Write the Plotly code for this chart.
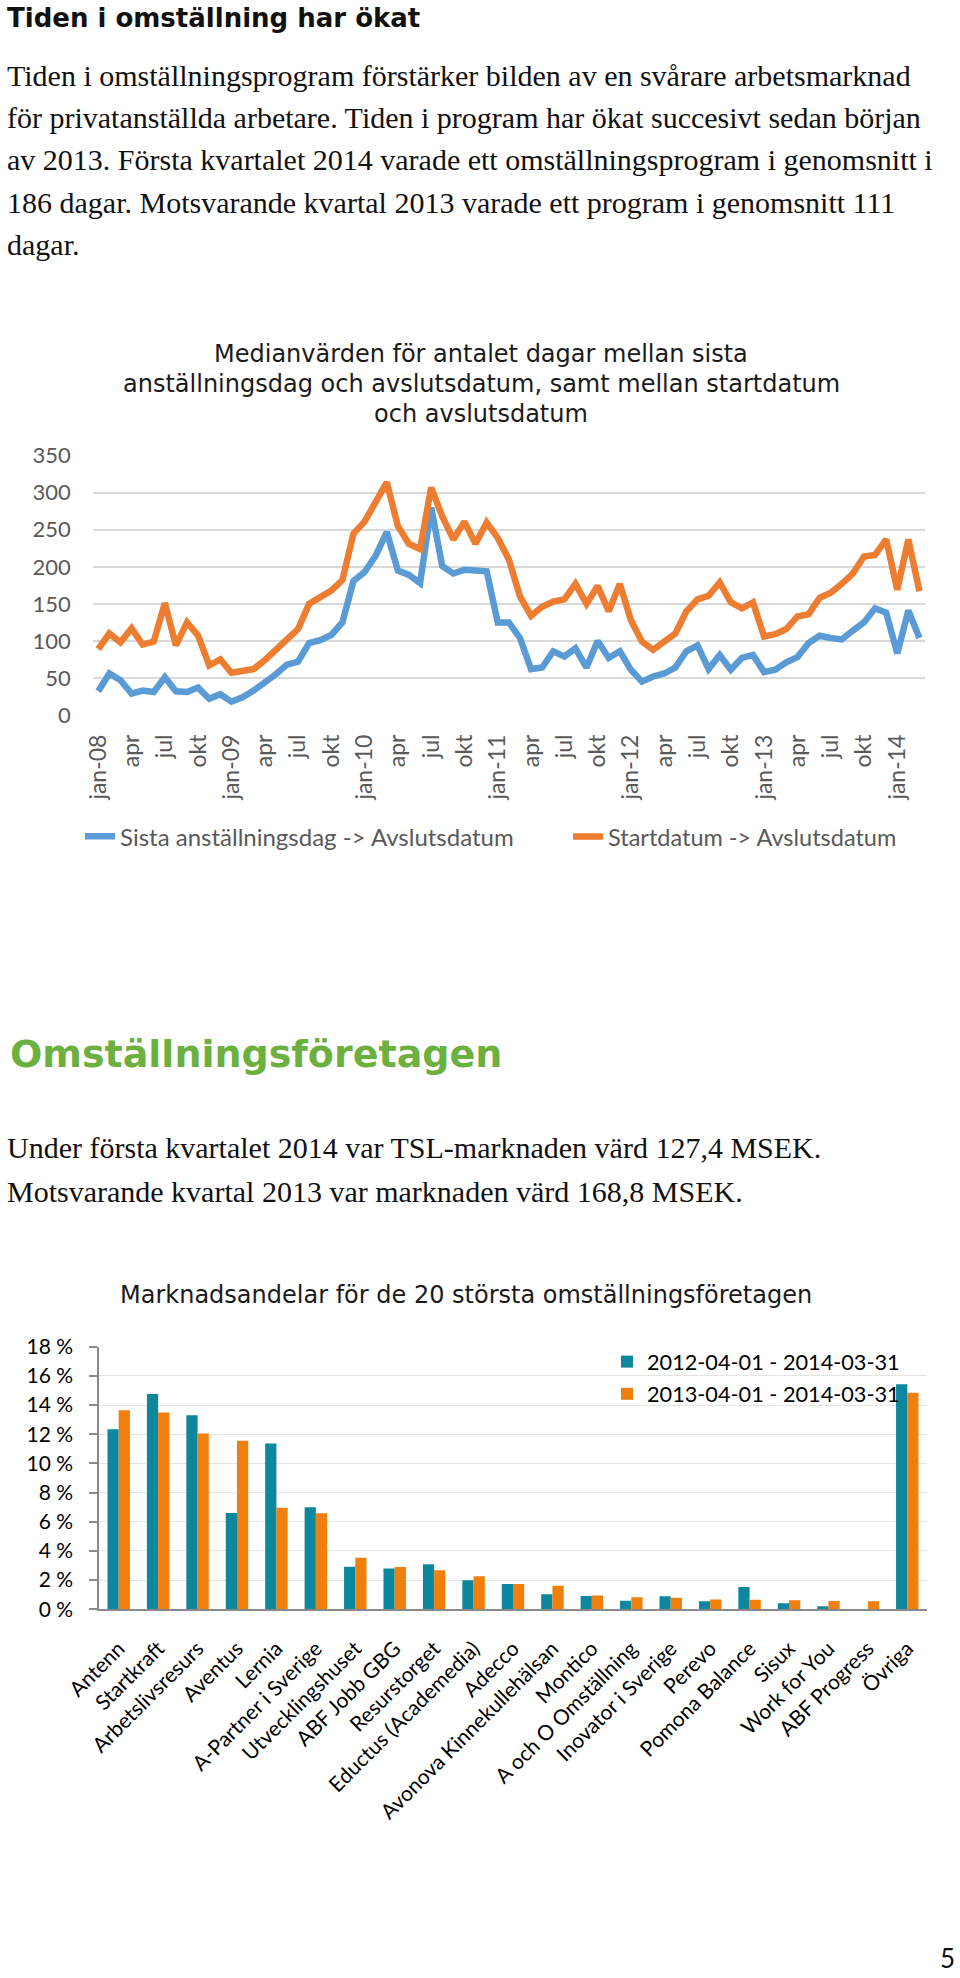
import plotly.graph_objects as go

W, H = 960, 1978

# ---------------- data: line chart ----------------
mon = ["jan", "feb", "mar", "apr", "maj", "jun", "jul", "aug", "sep", "okt", "nov", "dec"]
months = [f"{m}-{y:02d}" for y in range(8, 15) for m in mon][:75]
tick_vals = months[::3]
tick_text = [m if m.startswith("jan") else m[:3] for m in tick_vals]

sista = [32, 56, 47, 29, 33, 31, 51, 32, 31, 37, 22, 28, 18, 24, 33, 43, 55, 68, 72,
         97, 101, 108, 125, 181, 193, 215, 247, 195, 189, 178, 280, 201, 191, 196, 195,
         194, 125, 125, 104, 62, 64, 86, 79, 90, 64, 100, 77, 86, 61, 45, 52, 56, 64,
         86, 94, 62, 81, 61, 77, 81, 58, 61, 71, 78, 97, 107, 104, 102, 114, 125, 144,
         138, 83, 141, 104]
start = [89, 110, 98, 117, 95, 99, 151, 94, 125, 107, 67, 75, 57, 59, 62, 74, 89, 103,
         116, 150, 158, 168, 182, 245, 261, 288, 314, 255, 231, 224, 307, 268, 237, 261,
         231, 260, 239, 210, 160, 134, 146, 153, 156, 177, 150, 174, 140, 177, 128, 99,
         88, 99, 110, 140, 156, 161, 179, 152, 144, 152, 106, 109, 116, 133, 136, 158,
         165, 177, 191, 214, 216, 237, 169, 237, 167]
line_names = ["Sista anställningsdag -> Avslutsdatum", "Startdatum -> Avslutsdatum"]

# ---------------- data: bar chart ----------------
companies = ["Antenn", "Startkraft", "Arbetslivsresurs", "Aventus", "Lernia",
             "A-Partner i Sverige", "Utvecklingshuset", "ABF Jobb GBG", "Resurstorget",
             "Eductus (Academedia)", "Adecco", "Avonova Kinnekullehälsan", "Montico",
             "A och O Omställning", "Inovator i Sverige", "Perevo", "Pomona Balance",
             "Sisux", "Work for You", "ABF Progress", "Övriga"]
share_a = [12.35, 14.75, 13.3, 6.6, 11.37, 7.0, 2.92, 2.79, 3.08, 1.99, 1.74, 1.03,
           0.91, 0.59, 0.89, 0.55, 1.53, 0.41, 0.21, 0.0, 15.43]
share_b = [13.65, 13.49, 12.05, 11.55, 6.96, 6.58, 3.54, 2.9, 2.67, 2.26, 1.74, 1.62,
           0.94, 0.82, 0.8, 0.68, 0.66, 0.62, 0.57, 0.55, 14.84]
bar_names = ["2012-04-01 - 2014-03-31", "2013-04-01 - 2014-03-31"]

BLUE, ORANGE = "#5b9bd5", "#ed7d31"
TEAL, ORANGE2 = "#0d879d", "#f07f0c"
GREEN = "#6cb040"


def px_x(x):
    return x / W


def px_y(y):
    return 1 - y / H


fig = go.Figure()
fig.add_trace(go.Scatter(x=months, y=sista, mode="lines", name=line_names[0],
                         line=dict(color=BLUE, width=6.5), xaxis="x", yaxis="y",
                         legend="legend", showlegend=True))
fig.add_trace(go.Scatter(x=months, y=start, mode="lines", name=line_names[1],
                         line=dict(color=ORANGE, width=6.5), xaxis="x", yaxis="y",
                         legend="legend3", showlegend=True))
fig.add_trace(go.Bar(x=companies, y=share_a, name=bar_names[0], marker_color=TEAL,
                     xaxis="x2", yaxis="y2", legend="legend2", legendgroup="a",
                     showlegend=True))
fig.add_trace(go.Bar(x=companies, y=share_b, name=bar_names[1], marker_color=ORANGE2,
                     xaxis="x2", yaxis="y2", legend="legend2", legendgroup="b",
                     showlegend=True))

anns = []


def ann(text, x, middle, size, family, color="#111111", xanchor="left"):
    anns.append(dict(text=text, x=px_x(x), y=px_y(middle),
                     xref="paper", yref="paper", xanchor=xanchor, yanchor="middle",
                     showarrow=False, font=dict(family=family, size=size, color=color)))


SERIF = "Liberation Serif"
ann("<b>Tiden i omställning har ökat</b>", 5, 17.5, 26, "DejaVu Sans")
body = ["Tiden i omställningsprogram förstärker bilden av en svårare arbetsmarknad",
        "för privatanställda arbetare. Tiden i program har ökat succesivt sedan början",
        "av 2013. Första kvartalet 2014 varade ett omställningsprogram i genomsnitt i",
        "186 dagar. Motsvarande kvartal 2013 varade ett program i genomsnitt 111",
        "dagar."]
for i, t in enumerate(body):
    ann(t, 5, 75.5 + 42.2 * i, 30, SERIF)

title1 = ["Medianvärden för antalet dagar mellan sista",
          "anställningsdag och avslutsdatum, samt mellan startdatum",
          "och avslutsdatum"]
for i, t in enumerate(title1):
    ann(t, 481, 353.6 + 30 * i, 24, "DejaVu Sans", "#1a1a1a", "center")

ann("<b>Omställningsföretagen</b>", 8, 1053.7, 38, "DejaVu Sans", GREEN)
ann("Under första kvartalet 2014 var TSL-marknaden värd 127,4 MSEK.", 5, 1147.5, 30, SERIF)
ann("Motsvarande kvartal 2013 var marknaden värd 168,8 MSEK.", 5, 1191.5, 30, SERIF)
ann("Marknadsandelar för de 20 största omställningsföretagen", 466, 1295, 24,
    "DejaVu Sans", "#1a1a1a", "center")
ann("5", 947, 1958, 26, "Lato", "#111111", "center")

fig.update_layout(
    template="none", showlegend=True,
    width=W, height=H, margin=dict(l=0, r=0, t=0, b=0, pad=0, autoexpand=False),
    paper_bgcolor="white", plot_bgcolor="white",
    barmode="group", bargap=0.43, bargroupgap=0,
    annotations=anns,
    xaxis=dict(domain=[px_x(92.7), px_x(925)], anchor="y", type="category",
               range=[-0.5, 74.5], tickmode="array", tickvals=tick_vals,
               ticktext=tick_text, tickangle=-90, showgrid=False, showline=False,
               zeroline=False, ticks="", ticklabelstandoff=14, automargin=False,
               tickfont=dict(family="Lato", size=23, color="#595959")),
    yaxis=dict(domain=[px_y(715), px_y(455.7)], anchor="x", range=[0, 350], dtick=50,
               showgrid=True, gridcolor="#d9d9d9", gridwidth=1.5, zeroline=False,
               showline=False, ticks="", ticklabelstandoff=21, automargin=False,
               tickfont=dict(family="Lato", size=22, color="#595959")),
    xaxis2=dict(domain=[px_x(99), px_x(927)], anchor="y2", type="category",
                tickangle=-45, showline=True, linecolor="#8a8a8a", linewidth=1.5,
                ticks="", showgrid=False, ticklabelstandoff=17, automargin=False,
                tickfont=dict(family="Lato", size=21, color="#000000")),
    yaxis2=dict(domain=[px_y(1609.3), px_y(1346.7)], anchor="x2", range=[0, 18], dtick=2,
                ticksuffix=" %", showgrid=True, gridcolor="#e4e4e4", gridwidth=1.2,
                zeroline=False, showline=True, linecolor="#8a8a8a", linewidth=1.5,
                ticks="outside", ticklen=8, tickcolor="#8a8a8a", tickwidth=1.5,
                ticklabelstandoff=12, automargin=False,
                tickfont=dict(family="Lato", size=21, color="#000000")),
    legend=dict(orientation="h", x=px_x(80), xanchor="left", y=px_y(836.7),
                yanchor="middle", bgcolor="rgba(0,0,0,0)", visible=True,
                font=dict(family="Lato", size=24, color="#595959")),
    legend3=dict(orientation="h", x=px_x(568), xanchor="left", y=px_y(836.7),
                 yanchor="middle", bgcolor="rgba(0,0,0,0)", visible=True,
                 font=dict(family="Lato", size=23.5, color="#595959")),
    legend2=dict(orientation="v", x=px_x(607), xanchor="left", y=px_y(1341),
                 yanchor="top", bgcolor="rgba(0,0,0,0)", tracegroupgap=1, visible=True,
                 font=dict(family="Lato", size=21.7, color="#000000")),
)

fig.write_html("out.html", config={"displayModeBar": False},
               post_script="document.body.style.margin='0px';")
